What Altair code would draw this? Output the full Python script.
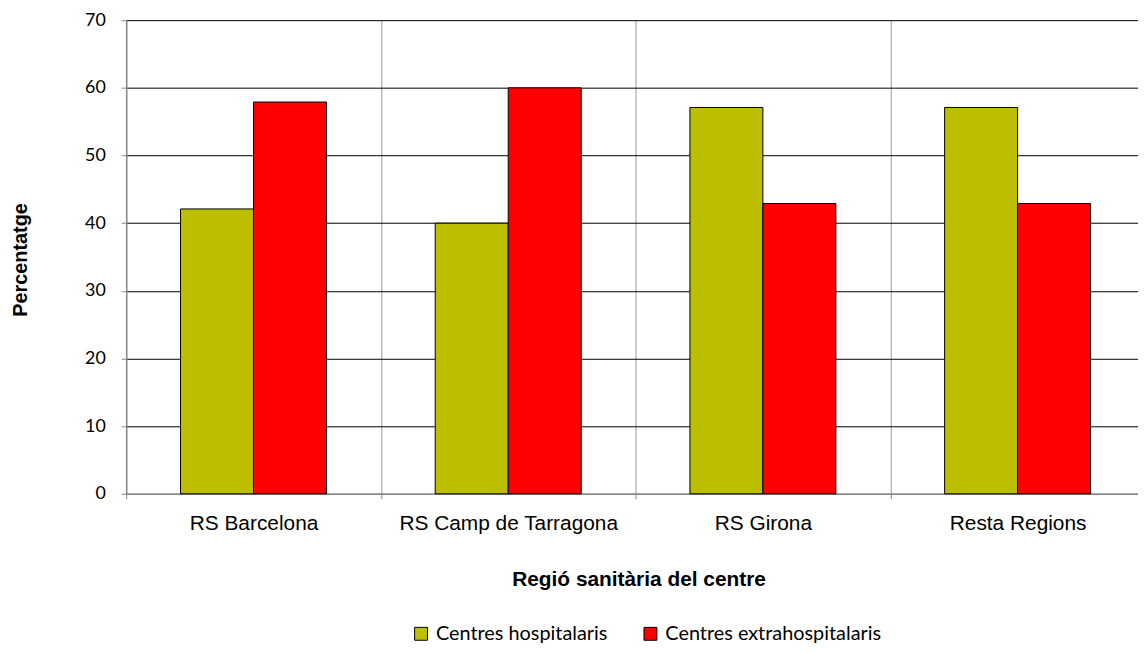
import altair as alt
import pandas as pd

categories = ["RS Barcelona", "RS Camp de Tarragona", "RS Girona", "Resta Regions"]
series = ["Centres hospitalaris", "Centres extrahospitalaris"]
hospitalaris = [42.1, 40.0, 57.1, 57.1]
extrahospitalaris = [57.9, 60.0, 42.9, 42.9]
y_ticks = [0, 10, 20, 30, 40, 50, 60, 70]
colors = ["#BBBF00", "#FF0000"]

rows = []
for c, h, e in zip(categories, hospitalaris, extrahospitalaris):
    rows.append({"regio": c, "serie": series[0], "pct": h})
    rows.append({"regio": c, "serie": series[1], "pct": e})
df = pd.DataFrame(rows)

x = alt.X(
    "regio:N",
    sort=categories,
    scale=alt.Scale(paddingInner=0, paddingOuter=0),
    axis=alt.Axis(
        title="Regió sanitària del centre",
        tickBand="extent",
        grid=True,
        gridColor="#999999",
        gridWidth=1,
        domainColor="#888888",
        domainWidth=1.5,
        tickColor="#888888",
        tickSize=5,
        labelAngle=0,
        labelFont="Liberation Sans",
        labelFontSize=21,
        labelColor="black",
        labelPadding=14,
        labelLimit=400,
        titleFont="Liberation Sans",
        titleFontSize=21,
        titleFontWeight="bold",
        titleColor="black",
        titleX=516,
        titleY=92,
        titleBaseline="alphabetic",
    ),
)

y = alt.Y(
    "pct:Q",
    scale=alt.Scale(domain=[0, 70], nice=False),
    axis=alt.Axis(
        values=y_ticks,
        title="Percentatge",
        grid=True,
        gridColor="black",
        gridWidth=1,
        domainColor="#888888",
        domainWidth=1.5,
        tickColor="#888888",
        tickSize=5,
        labelFont="Lato",
        labelFontSize=18,
        labelColor="black",
        labelPadding=16,
        titleFont="Liberation Sans",
        titleFontSize=20,
        titleFontWeight="bold",
        titleColor="black",
        titleAngle=270,
        titleX=-106,
        titleY=241,
        titleBaseline="middle",
    ),
)

chart = (
    alt.Chart(df)
    .mark_bar(stroke="black", strokeWidth=1)
    .encode(
        x=x,
        y=y,
        xOffset=alt.XOffset("serie:N", sort=series, scale=alt.Scale(paddingOuter=0.745, paddingInner=0)),
        color=alt.Color(
            "serie:N",
            sort=series,
            scale=alt.Scale(domain=series, range=colors),
            legend=alt.Legend(
                title=None,
                orient="none",
                legendX=287,
                legendY=608,
                direction="horizontal",
                columns=2,
                symbolType="square",
                symbolSize=169,
                symbolStrokeColor="black",
                symbolStrokeWidth=1,
                symbolOpacity=1,
                labelFont="Lato",
                labelFontSize=20,
                labelColor="black",
                labelOffset=5,
                labelLimit=400,
                columnPadding=33,
                padding=0,
            ),
        ),
    )
    .properties(
        width=1026,
        height=477,
        autosize=alt.AutoSizeParams(type="none"),
        padding={"left": 119, "top": 10, "right": -7, "bottom": 150},
    )
    .configure_view(stroke=None)
)

chart.save("out.html", embed_options={"renderer": "svg", "actions": False})
